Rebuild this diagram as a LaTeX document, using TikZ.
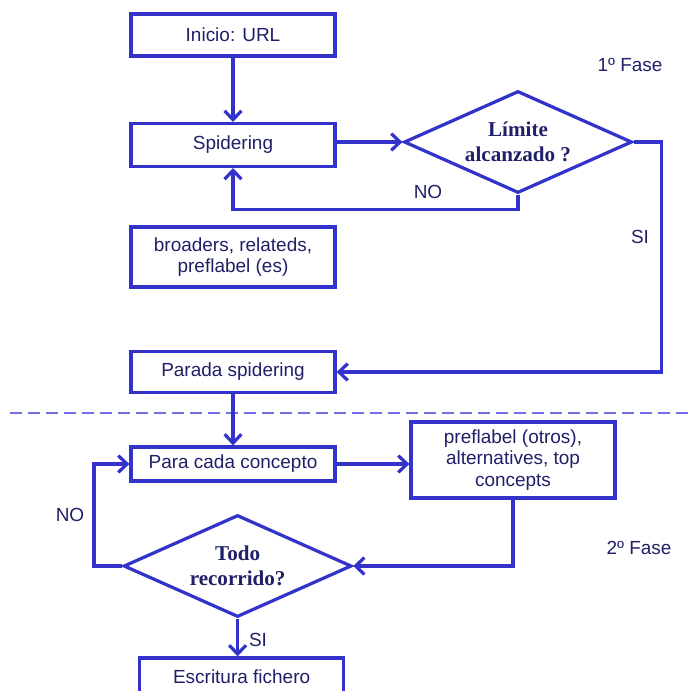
\documentclass[tikz,border=0pt]{standalone}
\usepackage{fontspec}
\setmainfont{Liberation Sans}
\newfontfamily\diamfont{Liberation Serif}
\usetikzlibrary{shapes.geometric,arrows.meta,calc,positioning}
\definecolor{lineblue}{RGB}{51,51,204}
\definecolor{textnavy}{RGB}{32,32,105}
\definecolor{dashblue}{RGB}{110,110,230}
\tikzset{
  procbox/.style={draw=lineblue, line width=2.3pt, fill=white, text=textnavy,
    minimum width=5.1cm, align=center, inner sep=2pt,
    font=\fontsize{13.5}{15.5}\selectfont},
  decision/.style={diamond, draw=lineblue, line width=2.3pt, fill=white, text=textnavy,
    minimum width=5.7cm, minimum height=2.55cm, aspect=2.2, inner sep=0pt, align=center,
    font=\diamfont\bfseries\fontsize{15}{18}\selectfont},
  flow/.style={draw=lineblue, line width=2.3pt, -{Straight Barb[length=2.2mm,width=4.2mm]}},
  lbl/.style={text=textnavy, font=\fontsize{13.5}{15.5}\selectfont}
}
\begin{document}
\begin{tikzpicture}
		\useasboundingbox (0,0) rectangle (17.275,17.25);
		\node[procbox, minimum height=1.05cm] (inicio) at (5.825,16.375) {Inicio: URL};
		\node[procbox, minimum height=1.07cm] (spider) at (5.825,13.625) {Spidering};
		\node[decision] (limite) at (12.95,13.7) {Límite\\alcanzado ?};
		\node[procbox, minimum height=1.5cm] (broad) at (5.825,10.825) {broaders, relateds,\\preflabel (es)};
		\node[procbox, minimum height=1.03cm] (parada) at (5.825,7.95) {Parada spidering};
		\node[procbox, minimum height=0.85cm] (paracada) at (5.825,5.65) {Para cada concepto};
		\node[procbox, minimum height=1.9cm] (pref) at (12.825,5.75) {preflabel (otros),\\alternatives, top\\concepts};
		\node[decision] (todo) at (5.94,3.1) {Todo\\recorrido?};
		\node[procbox, minimum height=0.95cm] (escr) at (6.04,0.325) {Escritura fichero};
		\draw[dashblue, line width=1pt, dash pattern=on 0.3cm off 0.15cm] (0.25,6.925) -- (17.275,6.925);
		\draw[flow] (inicio) -- (spider);
		\draw[flow] (spider.east |- limite) -- (limite.west);
		\draw[flow] (limite.south) -- ++(0,-0.375) -| (spider.south);
		\draw[flow] (limite.east) -- ++(0.7,0) |- (parada.east);
		\draw[flow] (parada) -- (paracada);
		\draw[flow] (paracada.east) -- (paracada.east -| pref.west);
		\draw[flow] (pref.south) |- (todo.east);
		\draw[flow] (todo.west) -- ++(-0.7,0) |- (paracada.west);
		\draw[flow] (todo.south) -- (todo.south |- escr.north);
		\node[lbl] (noA) at (10.7,12.45) {NO};
		\node[lbl] (siA) at (16.0,11.325) {SI};
		\node[lbl] (noB) at (1.75,4.375) {NO};
		\node[lbl] (siB) at (6.45,1.25) {SI};
		\node[lbl] (faseA) at (15.75,15.625) {1º Fase};
		\node[lbl] (faseB) at (15.975,3.55) {2º Fase};
\end{tikzpicture}
\end{document}
